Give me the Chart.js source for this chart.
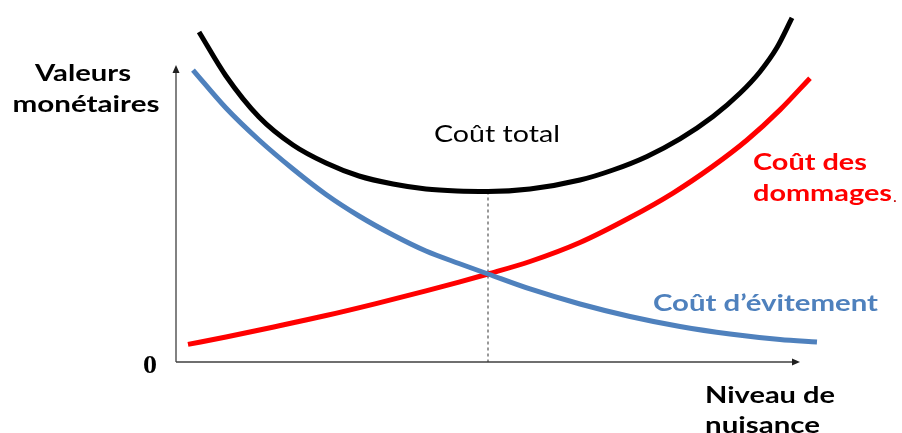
<!DOCTYPE html>
<html lang="fr">
<head>
<meta charset="utf-8">
<title>Coût total, coût des dommages et coût d'évitement</title>
<script src="https://cdn.jsdelivr.net/npm/chart.js@4.4.1/dist/chart.umd.min.js"></script>
<style>
  html, body { margin: 0; padding: 0; background: #ffffff; }
  #wrap { width: 902px; height: 433px; position: relative; }
</style>
</head>
<body>
<div id="wrap"><canvas id="c" width="902" height="433"></canvas></div>
<script>
// Niveau de nuisance (abscisse, unités arbitraires 0–100)
const avoidX  = [2.72, 8.01, 13.30, 18.75, 24.04, 29.33, 34.78, 40.06, 45.35, 50.0, 56.73, 64.74, 72.76, 80.77, 88.78, 96.79, 102.72];
// Coût d'évitement (décroissant)
const avoidY  = [82.95, 72.16, 63.07, 54.83, 47.59, 41.48, 36.08, 31.53, 27.98, 25.0, 20.74, 16.48, 12.93, 10.09, 7.95, 6.39, 5.68];

const damageX = [1.92, 8.01, 16.03, 24.04, 32.05, 40.06, 45.35, 50.0, 56.73, 64.74, 72.76, 79.65, 86.06, 91.51, 96.79, 101.6];
// Coût des dommages (croissant)
const damageY = [5.0, 7.1, 10.1, 13.2, 16.6, 20.2, 22.7, 25.0, 28.55, 33.95, 41.05, 48.0, 55.65, 63.07, 71.62, 80.63];

const totalX  = [3.69, 8.01, 13.30, 18.75, 24.04, 29.33, 34.78, 40.06, 45.03, 50.0, 56.73, 64.74, 70.03, 75.48, 80.77, 86.06, 90.38, 93.59, 96.31, 98.72];
// Coût total (en U, minimum au niveau optimal)
const totalY  = [93.75, 81.25, 69.6, 61.65, 56.53, 52.84, 50.57, 49.15, 48.58, 48.44, 49.15, 51.7, 54.55, 58.41, 63.38, 69.74, 76.34, 82.47, 89.32, 97.73];

// Niveau optimal de nuisance et coût total minimal
const optimumX = 50.0;
const optimumTotal = 48.44;

// Étendue des axes tracés avec flèches
const axisXEnd = 100;
const axisYEnd = 84.4;

const toPoints = (xs, ys) => xs.map((x, i) => ({ x: x, y: ys[i] }));

const BLUE = '#4f81bd';
const RED = '#ff0000';
const FONT = 'Lato, "Open Sans", "Noto Sans", sans-serif';

// Texte étiré horizontalement jusqu'à une largeur donnée
function fitText(ctx, text, x, baseline, width, align) {
  const w = ctx.measureText(text).width;
  const sx = width / w;
  const left = align === 'center' ? x - width / 2 : x;
  ctx.save();
  ctx.textAlign = 'left';
  ctx.textBaseline = 'alphabetic';
  ctx.translate(left, baseline);
  ctx.scale(sx, 1);
  ctx.fillText(text, 0, 0);
  ctx.restore();
  return left + width;
}

// Axes à flèches et libellés du schéma
const schemaPlugin = {
  id: 'schema',
  beforeDatasetsDraw(chart) {
    const { ctx, scales: { x, y } } = chart;
    const x0 = x.getPixelForValue(0), y0 = y.getPixelForValue(0);
    const xe = x.getPixelForValue(axisXEnd), ye = y.getPixelForValue(axisYEnd);
    ctx.save();
    ctx.strokeStyle = '#404040';
    ctx.fillStyle = '#202020';
    ctx.lineWidth = 1.3;
    ctx.beginPath();
    ctx.moveTo(x0, y0); ctx.lineTo(x0, ye + 4);
    ctx.moveTo(x0, y0); ctx.lineTo(xe - 4, y0);
    ctx.stroke();
    // pointes de flèche
    ctx.beginPath();
    ctx.moveTo(x0, ye); ctx.lineTo(x0 - 3.5, ye + 8); ctx.lineTo(x0 + 3.5, ye + 8); ctx.closePath();
    ctx.fill();
    ctx.beginPath();
    ctx.moveTo(xe, y0); ctx.lineTo(xe - 8, y0 - 3.5); ctx.lineTo(xe - 8, y0 + 3.5); ctx.closePath();
    ctx.fill();
    ctx.restore();
  },
  afterDraw(chart) {
    const { ctx } = chart;
    ctx.save();

    // titre de l'axe vertical
    ctx.fillStyle = '#000000';
    ctx.font = 'bold 23px ' + FONT;
    fitText(ctx, 'Valeurs', 83, 81, 96, 'center');
    fitText(ctx, 'monétaires', 86, 112, 147, 'center');

    // origine
    ctx.font = 'bold 26px "Liberation Serif", "DejaVu Serif", serif';
    fitText(ctx, '0', 150, 373, 14, 'center');

    // titre de l'axe horizontal
    ctx.font = 'bold 23px ' + FONT;
    fitText(ctx, 'Niveau de', 705, 403, 130, 'left');
    fitText(ctx, 'nuisance', 705, 433, 115, 'left');

    // coût total
    ctx.font = '24px ' + FONT;
    fitText(ctx, 'Coût total', 497, 142, 126, 'center');

    // coût des dommages
    ctx.fillStyle = RED;
    ctx.font = 'bold 23px ' + FONT;
    fitText(ctx, 'Coût des', 753, 170, 114, 'left');
    const end = fitText(ctx, 'dommages', 753, 201, 139, 'left');
    ctx.fillStyle = '#c00000';
    ctx.font = '16px ' + FONT;
    ctx.fillText('.', end + 1, 202);

    // coût d'évitement
    ctx.fillStyle = BLUE;
    ctx.font = 'bold 23px ' + FONT;
    fitText(ctx, 'Coût d\u2019évitement', 653, 311, 225, 'left');
    ctx.restore();
  }
};

const curve = { pointRadius: 0, cubicInterpolationMode: 'monotone', borderWidth: 5, clip: false, borderCapStyle: 'butt' };

new Chart(document.getElementById('c'), {
  type: 'line',
  data: {
    datasets: [
      {
        label: 'Niveau optimal',
        data: [{ x: optimumX, y: optimumTotal }, { x: optimumX, y: 0 }],
        borderColor: '#333333',
        borderWidth: 1,
        borderDash: [3, 3],
        pointRadius: 0,
        tension: 0,
        order: 4
      },
      Object.assign({
        label: 'Coût des dommages',
        data: toPoints(damageX, damageY),
        borderColor: RED,
        order: 3
      }, curve),
      Object.assign({
        label: 'Coût d\u2019évitement',
        data: toPoints(avoidX, avoidY),
        borderColor: BLUE,
        order: 2
      }, curve),
      Object.assign({
        label: 'Coût total',
        data: toPoints(totalX, totalY),
        borderColor: '#000000',
        order: 1
      }, curve)
    ]
  },
  options: {
    responsive: false,
    animation: false,
    layout: { padding: { left: 176, right: 102, top: 10, bottom: 71 } },
    plugins: { legend: { display: false }, tooltip: { enabled: false } },
    scales: {
      x: { type: 'linear', min: 0, max: 100, display: false },
      y: { type: 'linear', min: 0, max: 100, display: false }
    }
  },
  plugins: [schemaPlugin]
});
</script>
</body>
</html>
